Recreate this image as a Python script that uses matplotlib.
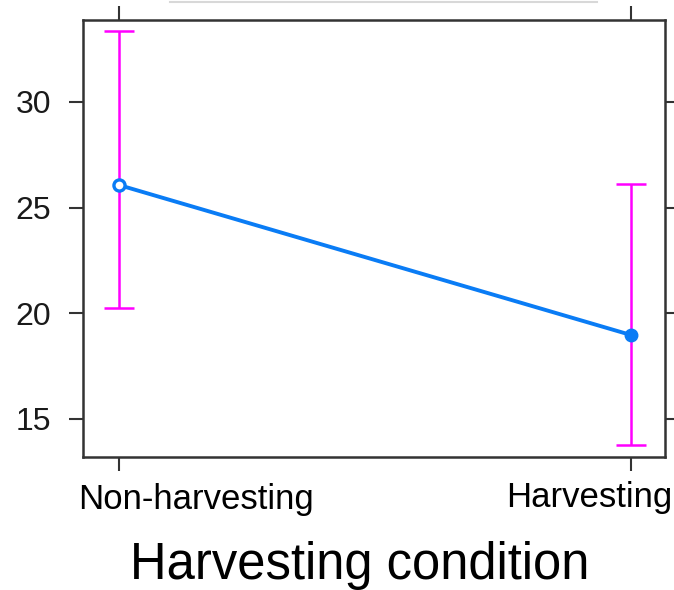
import matplotlib
matplotlib.use("Agg")
import matplotlib.pyplot as plt
from matplotlib.lines import Line2D

categories = ["Non-harvesting", "Harvesting"]
fit = [26.07, 18.97]
lower = [20.25, 13.77]
upper = [33.36, 26.12]
yticks = [15, 20, 25, 30]

plt.rcParams['font.family'] = ['Liberation Sans', 'DejaVu Sans']

W, H = 674, 590
fig = plt.figure(figsize=(W / 100, H / 100), dpi=100)
ax = fig.add_axes([83 / W, 1 - 457 / H, (665 - 83) / W, (457 - 20) / H])

x = list(range(len(categories)))
blue = "#0a7cf5"
mag = "#ff00ff"

ax.errorbar(x, fit, yerr=[[f - l for f, l in zip(fit, lower)], [u - f for f, u in zip(fit, upper)]],
            fmt="none", ecolor=mag, elinewidth=1.8, capsize=10.5, capthick=1.8, zorder=2)
ax.plot(x, fit, color=blue, lw=2.8, zorder=3)
ax.plot(x[0], fit[0], "o", ms=8, mfc="white", mec=blue, mew=2.4, zorder=4)
ax.plot(x[1], fit[1], "o", ms=9, mfc=blue, mec=blue, zorder=4)

ax.set_xlim(-0.0703, 1.066)
ax.set_ylim(13.2, 33.88)
ax.set_xticks(x)
ax.set_xticklabels([])
ax.set_yticks(yticks)
ax.set_yticklabels([str(v) for v in yticks], fontsize=23, color="#1a1a1a")
ax.tick_params(axis="both", direction="out", length=10, width=1.5, color="#333333",
               top=True, right=True, pad=13)
for s in ax.spines.values():
    s.set_linewidth(1.8)
    s.set_color("#333333")

# category labels as placed in the reference
fig.text(78 / W, 1 - 500 / H, categories[0], fontsize=25, ha="left", va="center")
fig.text(672 / W, 1 - 497 / H, categories[1], fontsize=25, ha="right", va="center")
fig.text(360 / W, 1 - 565 / H, "Harvesting condition", fontsize=36.5, ha="center", va="center")

fig.add_artist(Line2D([170 / W, 597 / W], [1 - 1.5 / H, 1 - 1.5 / H], color="#d8d8d8", lw=1.5))

fig.savefig("out.png", dpi=100)
